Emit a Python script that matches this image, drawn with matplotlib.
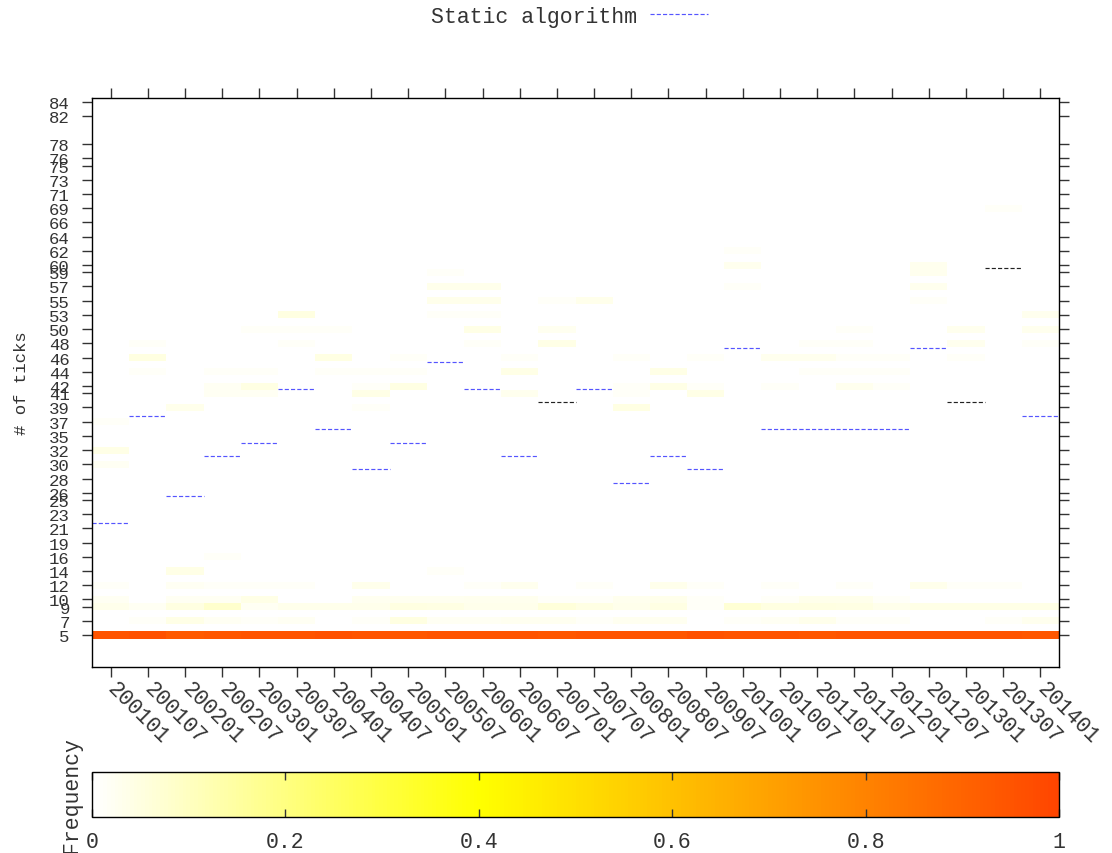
import numpy as np
import matplotlib
matplotlib.use('Agg')
import matplotlib.pyplot as plt
from matplotlib.colors import LinearSegmentedColormap
from matplotlib.lines import Line2D

plt.rcParams['font.family'] = ['Liberation Mono', 'DejaVu Sans Mono']

months = ['200101', '200107', '200201', '200207', '200301', '200307', '200401',
          '200407', '200501', '200507', '200601', '200607', '200701', '200707',
          '200801', '200807', '200907', '201001', '201007', '201101', '201107',
          '201201', '201207', '201301', '201307', '201401']

# tick labels and the bin row they sit on
y_labels = [5, 7, 9, 10, 12, 14, 16, 19, 21, 23, 25, 26, 28, 30, 32, 35, 37, 39,
            41, 42, 44, 46, 48, 50, 53, 55, 57, 59, 60, 62, 64, 66, 69, 71, 73,
            75, 76, 78, 82, 84]
y_rows = [0, 2, 4, 5, 7, 9, 11, 13, 15, 17, 19, 20, 22, 24, 26, 28, 30, 32, 34,
          35, 37, 39, 41, 43, 45, 47, 49, 51, 52, 54, 56, 58, 60, 62, 64, 66, 67,
          69, 73, 75]
n_rows = 76

# frequency per column: {tick label: frequency}
freq = [
    {37: .015, 32: .04, 30: .02, 12: .015, 10: .02, 9: .035, 5: .95},
    {48: .015, 46: .05, 44: .015, 9: .02, 7: .012, 5: .96},
    {39: .035, 14: .04, 12: .02, 10: .02, 9: .05, 7: .04, 5: .93},
    {44: .015, 42: .02, 41: .02, 16: .012, 12: .015, 10: .02, 9: .08, 7: .02, 5: .94},
    {50: .015, 44: .015, 42: .045, 41: .02, 12: .012, 10: .04, 9: .02, 7: .012, 5: .95},
    {53: .05, 50: .015, 48: .015, 12: .015, 9: .035, 7: .02, 5: .95},
    {50: .015, 46: .045, 44: .015, 9: .035, 5: .96},
    {44: .015, 42: .015, 41: .04, 39: .015, 12: .035, 10: .025, 9: .035, 7: .012, 5: .95},
    {46: .012, 44: .015, 42: .045, 10: .025, 9: .05, 7: .05, 5: .94},
    {59: .012, 57: .035, 55: .035, 53: .015, 14: .012, 10: .025, 9: .045, 7: .02, 5: .95},
    {57: .035, 55: .035, 53: .015, 50: .04, 48: .015, 12: .015, 10: .03, 9: .035, 7: .02, 5: .95},
    {46: .015, 44: .04, 41: .03, 12: .03, 10: .03, 9: .035, 7: .025, 5: .95},
    {55: .012, 50: .025, 48: .04, 10: .015, 9: .06, 7: .025, 5: .94},
    {55: .035, 12: .015, 10: .015, 9: .045, 7: .012, 5: .95},
    {46: .015, 42: .015, 41: .015, 39: .045, 10: .03, 9: .035, 7: .025, 5: .95},
    {44: .04, 42: .04, 12: .035, 10: .035, 9: .045, 7: .025, 5: .94},
    {46: .012, 42: .012, 41: .04, 12: .015, 10: .015, 9: .015, 5: .96},
    {62: .012, 60: .03, 57: .015, 9: .07, 7: .012, 5: .95},
    {46: .03, 42: .015, 12: .015, 10: .015, 9: .05, 7: .02, 5: .95},
    {48: .015, 46: .03, 44: .015, 10: .035, 9: .05, 7: .035, 5: .94},
    {50: .015, 48: .015, 46: .015, 44: .015, 42: .03, 12: .015, 10: .035, 9: .045, 7: .015, 5: .95},
    {46: .015, 44: .015, 42: .015, 10: .015, 9: .035, 7: .015, 5: .95},
    {60: .03, 59: .03, 57: .03, 55: .015, 12: .035, 9: .04, 5: .95},
    {50: .03, 48: .03, 46: .015, 12: .015, 9: .04, 5: .95},
    {69: .012, 12: .012, 9: .04, 7: .015, 5: .95},
    {53: .03, 50: .03, 48: .015, 9: .04, 7: .03, 5: .94},
]

# static algorithm level per column (in bin rows)
static_level = [15.7, 30.8, 19.5, 25.2, 27.0, 34.6, 28.9, 23.3, 27.0, 38.4, 34.6,
                25.2, 32.7, 34.6, 21.4, 25.2, 23.3, 40.3, 28.9, 28.9, 28.9, 28.9,
                40.3, 32.7, 51.6, 30.8]
static_dark = [12, 23, 24]

row_of = dict(zip(y_labels, y_rows))
Z = np.zeros((n_rows, len(months)))
for i, col in enumerate(freq):
    for lab, f in col.items():
        Z[row_of[lab], i] = f

cmap = LinearSegmentedColormap.from_list('wyr', [(0, 'white'), (0.4, 'yellow'), (1, 'orangered')])
txt = '#333333'

fig = plt.figure(figsize=(11.12, 8.54), dpi=100)
ax = fig.add_axes([92 / 1112, 1 - 668 / 854, 967 / 1112, 569 / 854])
cax = fig.add_axes([92 / 1112, 1 - 818 / 854, 967 / 1112, 45 / 854])

mesh = ax.pcolormesh(np.arange(len(months) + 1) - 0.5, np.arange(n_rows + 1) - 0.5, Z,
                     cmap=cmap, vmin=0, vmax=1)

blue = '#5555ff'
dash = (0, (3.5, 1.8))
for i, lv in enumerate(static_level):
    c = '#222222' if i in static_dark else blue
    ax.hlines(lv, i - 0.5, i + 0.5, colors=c, linestyles=dash, linewidth=0.85)

ax.set_xlim(-0.5, len(months) - 0.5)
ax.set_ylim(-4.5, 75.5)
ax.set_xticks(range(len(months)))
ax.set_xticklabels(months, rotation=-45, ha='left', va='center',
                   rotation_mode='anchor', fontsize=15.5, color=txt)
ax.set_yticks(y_rows)
ax.set_yticklabels([str(v) for v in y_labels], fontsize=12.5, color=txt)
ax.tick_params(axis='x', direction='out', length=7, width=1, top=True, pad=6, color='#333333')
ax.tick_params(axis='y', direction='out', length=7, width=1, right=True, pad=9, color='#333333')
for s in ax.spines.values():
    s.set_linewidth(1)
ax.set_ylabel('# of ticks', fontsize=12.5, color=txt)
ax.yaxis.set_label_coords((29 - 92) / 967, 0.5)

h = Line2D([], [], color=blue, linestyle=dash, linewidth=0.85)
fig.legend([h], ['Static algorithm'], loc='center', bbox_to_anchor=(0.512, 0.98),
           frameon=False, markerfirst=False, fontsize=15.5, handlelength=2.7,
           handletextpad=0.6, labelcolor=txt)

cb = fig.colorbar(mesh, cax=cax, orientation='horizontal')
cb.set_ticks([0, 0.2, 0.4, 0.6, 0.8, 1])
cb.set_ticklabels(['0', '0.2', '0.4', '0.6', '0.8', '1'])
cb.outline.set_linewidth(1)
cax.tick_params(direction='in', length=6, width=1, top=True, bottom=True,
                labelsize=15.5, labelcolor=txt, pad=10, color='#333333')
cax.set_ylabel('Frequency', fontsize=15.5, color=txt)
cax.yaxis.set_label_coords((82 - 92) / 967, 0.5)

fig.savefig('out.png', dpi=100)
